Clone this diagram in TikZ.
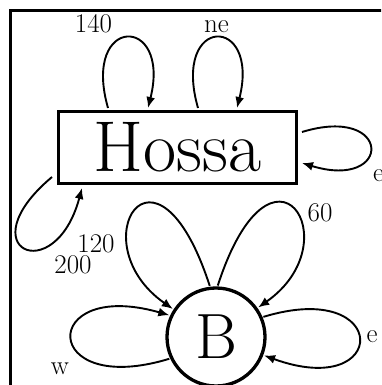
\documentclass[tikz,border=0pt]{standalone}
\usetikzlibrary{arrows.meta,calc}
\begin{document}
\begin{tikzpicture}[x=1pt,y=1pt,
  loopline/.style={line width=1.9pt,-{Latex[length=11pt,width=9pt]}},
  lbl/.style={font=\fontsize{27}{30}\selectfont,inner sep=0pt,anchor=base},
  ]
\clip (0,0) rectangle (381,385);
\draw[line width=2.5pt] (10.3,-20) rectangle (420,374.7);
\node[draw,line width=3.3pt,minimum width=238pt,minimum height=72pt,inner sep=0pt,outer sep=4.5pt,font=\fontsize{72}{80}\selectfont] (H) at (177.5,237.5) {Hossa};
\node[draw,circle,line width=3.3pt,minimum size=98pt,inner sep=0pt,outer sep=2.5pt,font=\fontsize{64}{70}\selectfont] (B) at (216,48) {B};
% loops on Hossa
\draw[loopline] ([shift={(-69.5,39.5)}]H.center) .. controls +(106:97) and +(76:97) .. ([shift={(-29.5,39.5)}]H.center);
\draw[loopline] ([shift={(20.5,39.5)}]H.center) .. controls +(106:97) and +(76:97) .. ([shift={(59.5,39.5)}]H.center);
\draw[loopline] ([shift={(124.5,15.5)}]H.center) .. controls +(17:95) and +(-17:95) .. ([shift={(124.5,-15.5)}]H.center);
\draw[loopline] ([shift={(-125.5,-29.5)}]H.center) .. controls +(220:112) and +(255:105) .. ([shift={(-95.5,-40.5)}]H.center);
% loops on B
\draw[loopline] (B.97) .. controls +(108:175) and +(145:115) .. (B.147);
\draw[loopline] (B.88) .. controls +(72:175) and +(35:115) .. (B.35);
\draw[loopline] (B.205) .. controls +(197:136) and +(164:136) .. (B.155);
\draw[loopline] (B.23) .. controls +(17:134) and +(-20:134) .. (B.339);
% labels
\node[lbl] (l140) at (93.5,352) {140};
\node[lbl] (lne) at (216.5,352) {ne};
\node[lbl,anchor=base west] (lHe) at (373,203) {e};
\node[lbl] (l200) at (73,111) {200};
\node[lbl] (l120) at (96,132.5) {120};
\node[lbl] (l60) at (320,163) {60};
\node[lbl] (lBe) at (372,42) {e};
\node[lbl] (lw) at (60,10) {w};
\end{tikzpicture}
\end{document}
